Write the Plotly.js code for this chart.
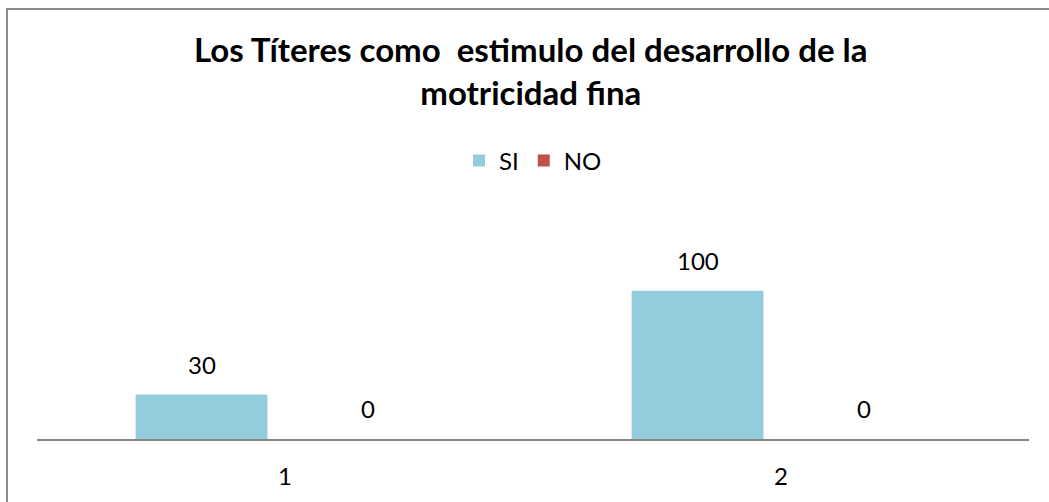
<!DOCTYPE html>
<html>
<head>
<meta charset="utf-8">
<script src="https://cdn.plot.ly/plotly-3.0.1.min.js"></script>
<style>html,body{margin:0;padding:0;background:#fff;}</style>
</head>
<body>
<div id="chart" style="width:1049px;height:502px;"></div>
<script>
const categories = ["1", "2"];
const seriesNames = ["SI", "NO"];
const siValues = [30, 100];
const noValues = [0, 0];
const seriesColors = ["#93CDDD", "#C0504D"];
const titleText = "Los Títeres como\u00A0 estimulo del desarrollo de la<br>motricidad fina";

const FONT = "Lato, Calibri, 'Open Sans', sans-serif";
const bargap = 0.327;
const bargroupgap = 0.21;
const slot = (1 - bargap) / 2;

const seriesValues = [siValues, noValues];
const traces = seriesValues.map((vals, k) => ({
  type: "bar",
  name: seriesNames[k],
  x: categories,
  y: vals,
  marker: {color: seriesColors[k], line: {width: 0}},
  hoverinfo: "x+y+name"
}));

const annotations = [];
seriesValues.forEach((vals, k) => {
  const off = (k - 0.5) * slot;
  vals.forEach((v, i) => {
    annotations.push({
      xref: "x", yref: "y",
      x: i + off, y: v,
      text: String(v),
      showarrow: false,
      yanchor: "bottom",
      yshift: 14,
      font: {family: FONT, size: 24, color: "#000"}
    });
  });
});

const layout = {
  width: 1049,
  height: 502,
  margin: {l: 37, r: 20, t: 261, b: 63, pad: 0},
  paper_bgcolor: "#fff",
  plot_bgcolor: "#fff",
  font: {family: FONT, size: 24, color: "#000"},
  title: {
    text: titleText,
    font: {family: FONT, size: 33, color: "#000", weight: "bold"},
    x: 0.506, xref: "container", xanchor: "center",
    y: 1 - 62 / 502, yref: "container", yanchor: "top"
  },
  showlegend: true,
  legend: {
    orientation: "h",
    x: 0.5, xanchor: "center",
    y: 1 - 161 / 502, yref: "container", yanchor: "middle",
    font: {family: FONT, size: 24, color: "#000"},
    itemwidth: 30,
    traceorder: "normal",
    bgcolor: "rgba(0,0,0,0)"
  },
  barmode: "group",
  bargap: bargap,
  bargroupgap: bargroupgap,
  xaxis: {
    type: "category",
    showline: true,
    linecolor: "#868686",
    linewidth: 2,
    ticks: "",
    showgrid: false,
    zeroline: false,
    tickfont: {family: FONT, size: 24, color: "#000"},
    ticklabelstandoff: 15
  },
  yaxis: {
    range: [0, 120],
    visible: false,
    showgrid: false,
    zeroline: false
  },
  annotations: annotations,
  shapes: [{
    type: "rect", xref: "paper", yref: "paper",
    x0: (7 - 37) / 992, x1: 1.2,
    y0: -2, y1: (439 - 9) / 178,
    line: {color: "#8C8C8C", width: 2},
    fillcolor: "rgba(0,0,0,0)",
    layer: "below"
  }]
};

Plotly.newPlot("chart", traces, layout, {displayModeBar: false, staticPlot: true});
</script>
</body>
</html>
